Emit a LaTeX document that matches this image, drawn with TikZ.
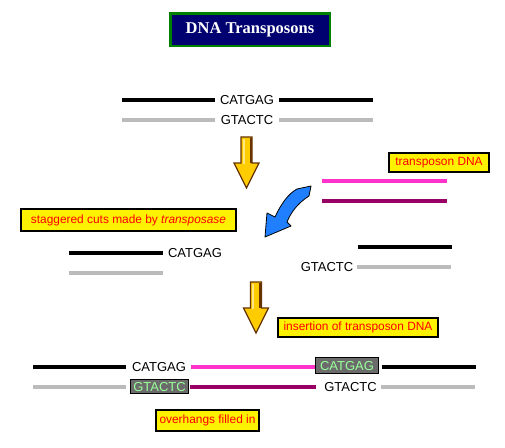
\documentclass[tikz,border=0pt]{standalone}
\usepackage{fontspec}
\setmainfont{Liberation Sans}
\newfontfamily\titlefont{Liberation Serif}
\definecolor{navy}{HTML}{000070}
\definecolor{tgreen}{HTML}{008000}
\definecolor{strandgray}{HTML}{BBBBBB}
\definecolor{tpink}{HTML}{FF33CC}
\definecolor{tpurple}{HTML}{990066}
\definecolor{gold}{HTML}{FFCC00}
\definecolor{lightgold}{HTML}{FFE680}
\definecolor{arrbrown}{HTML}{663300}
\definecolor{arrblue}{HTML}{1F7FFF}
\definecolor{boxgray}{HTML}{6B6B6B}
\definecolor{seqgreen}{HTML}{99FF99}
\begin{document}
\begin{tikzpicture}[x=1pt,y=-1pt,
  dnablack/.style={line width=4pt, black},
  dnagray/.style={line width=4pt, strandgray},
  dnapink/.style={line width=4pt, tpink},
  dnapurple/.style={line width=4pt, tpurple},
  seq/.style={font=\fontsize{13}{15}\selectfont, inner sep=0pt, text height=9.4pt, text depth=0pt},
  seqbox/.style={seq, fill=boxgray, draw=black, line width=1pt, text=seqgreen, minimum width=63pt, minimum height=16pt},
  label/.style={fill=yellow, draw=black, line width=2pt, text=red, inner sep=0pt,
    font=\fontsize{11.9}{13}\selectfont, text height=8.7pt, text depth=2.4pt},
  yarrow/.pic={
    \draw[fill=gold, draw=arrbrown, line width=1.2pt] (-5.5,0) -- (5.5,0) -- (5.5,26) -- (12.5,26) -- (0,51) -- (-12.5,26) -- (-5.5,26) -- cycle;
    \fill[lightgold] (-4,1.5) rectangle (-1.8,27);
    \fill[arrbrown] (3.2,1) rectangle (5,26);
  }
]
\useasboundingbox (0,0) rectangle (505,447);

% title
\node[fill=navy, draw=tgreen, line width=2.5pt, minimum width=159.5pt, minimum height=32.5pt, inner sep=0pt,
  text=white, font=\titlefont\bfseries\fontsize{16.5}{18}\selectfont] (title) at (250,29.5) {DNA Transposons};

% top DNA
\node[seq] (t1) at (247,100) {CATGAG};
\node[seq] (t2) at (247,120) {GTACTC};
\coordinate (t1l) at (122,100); \coordinate (t1r) at (373,100);
\coordinate (t2l) at (122,120); \coordinate (t2r) at (373,120);
\draw[dnablack] (t1l) -- (215,100);
\draw[dnablack] (279,100) -- (t1r);
\draw[dnagray] (t2l) -- (215,120);
\draw[dnagray] (279,120) -- (t2r);

% arrow 1
\pic at (246.5,137) {yarrow};

% transposon
\node[label, minimum width=100pt, minimum height=19pt] (lt) at (439,162.5) {transposon DNA};
\coordinate (pa) at (322,181); \coordinate (pb) at (447,181);
\coordinate (qa) at (322,201); \coordinate (qb) at (447,201);
\draw[dnapink] (pa) -- (pb);
\draw[dnapurple] (qa) -- (qb);

% blue arrow
\draw[fill=arrblue, draw=black, line width=0.8pt, line join=round]
  (297,189) -- (311,186) -- (309,196)
  .. controls (298,203) and (291,212) .. (287,222)
  -- (291,226) -- (265,237) -- (267,213) -- (275,217)
  .. controls (281,204) and (288,194) .. (297,189) -- cycle;

% staggered cuts
\node[label, minimum width=215pt, minimum height=22pt] (ls) at (128.5,220) {staggered cuts made by \textit{transposase}};

% middle left
\node[seq] (m1) at (195,253) {CATGAG};
\coordinate (m1l) at (69,253); \coordinate (m1r) at (163,253);
\coordinate (m2l) at (69,273); \coordinate (m2r) at (163,273);
\draw[dnablack] (m1l) -- (m1r);
\draw[dnagray] (m2l) -- (m2r);

% middle right
\node[seq] (m3) at (327,267) {GTACTC};
\coordinate (m3l) at (358,247); \coordinate (m3r) at (452,247);
\coordinate (m4l) at (357,267); \coordinate (m4r) at (451,267);
\draw[dnablack] (m3l) -- (m3r);
\draw[dnagray] (m4l) -- (m4r);

% arrow 2
\pic at (256,282) {yarrow};

% insertion label
\node[label, minimum width=160pt, minimum height=19pt] (li) at (358,327.5) {insertion of transposon DNA};

% bottom
\node[seq] (b1) at (159,367) {CATGAG};
\node[seqbox] (b2) at (347,365.5) {CATGAG};
\node[seqbox, minimum width=58pt, minimum height=14.5pt] (b3) at (159.5,386.5) {GTACTC};
\node[seq] (b4) at (350.5,387) {GTACTC};
\coordinate (b1l) at (33,367); \coordinate (b1r) at (476,367);
\coordinate (b3l) at (33,387); \coordinate (b3r) at (475,387);
\coordinate (pk1) at (191,367); \coordinate (pk2) at (315,367);
\coordinate (pu1) at (190,387); \coordinate (pu2) at (316,387);
\draw[dnablack] (b1l) -- (126,367);
\draw[dnapink] (pk1) -- (pk2);
\draw[dnablack] (382,367) -- (b1r);
\draw[dnagray] (b3l) -- (126,387);
\draw[dnapurple] (pu1) -- (pu2);
\draw[dnagray] (381,387) -- (b3r);

% overhangs label
\node[label, minimum width=103pt, minimum height=21pt] (lo) at (207.5,420.5) {overhangs filled in};
\end{tikzpicture}
\end{document}
